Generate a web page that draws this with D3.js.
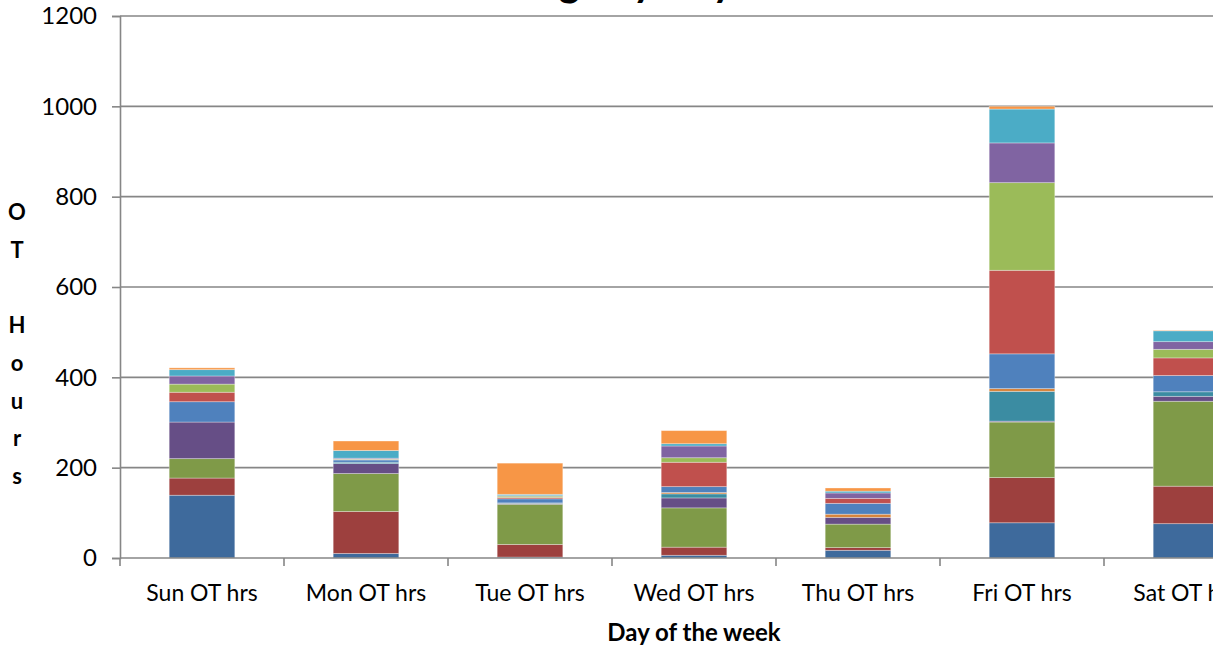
<!DOCTYPE html>
<html>
<head>
<meta charset="utf-8">
<script src="https://cdn.jsdelivr.net/npm/d3@7"></script>
<style>
  body { margin: 0; background: #fff; }
  #chart svg { display: block; overflow: hidden; }
</style>
</head>
<body>
<div id="chart"></div>
<script>
// categories along the x axis
var days = ["Sun OT hrs", "Mon OT hrs", "Tue OT hrs", "Wed OT hrs", "Thu OT hrs", "Fri OT hrs", "Sat OT hrs"];

// one array per series, bottom of the stack first (Sun..Sat)
var series1  = [139, 10,  2,  6, 17,  78,  76];
var series2  = [ 38, 93, 28, 18,  6, 100,  83];
var series3  = [ 43, 84, 89, 87, 52, 123, 188];
var series4  = [ 81, 22,  2, 22, 15,   2,  11];
var series5  = [  0,  3,  1,  9,  0,  66,  10];
var series6  = [  0,  0,  0,  3,  7,   6,   0];
var series7  = [ 45,  5,  9, 13, 24,  77,  36];
var series8  = [ 21,  1,  3, 54, 11, 185,  39];
var series9  = [ 18,  1,  3, 10,  0, 194,  19];
var series10 = [ 18,  2,  1, 26, 12,  88,  17];
var series11 = [ 14, 17,  3,  5,  4,  75,  24];
var series12 = [  4, 21, 69, 29,  7,   6,   1];

var seriesNames = ["Series1", "Series2", "Series3", "Series4", "Series5", "Series6",
                   "Series7", "Series8", "Series9", "Series10", "Series11", "Series12"];
var seriesValues = [series1, series2, series3, series4, series5, series6,
                    series7, series8, series9, series10, series11, series12];

var yTicks = [0, 200, 400, 600, 800, 1000, 1200];

var chartTitle = "OT Usage by Day of the Week";
var yTitleLetters = ["O", "T", "", "H", "o", "u", "r", "s"];
var xTitle = "Day of the week";

// excel 2007 palette, darker shades first
var colors = ["#3E6A9C", "#9D403E", "#7F9A48", "#664E86", "#3B8CA2", "#D9843A",
              "#4F81BD", "#C0504D", "#9BBB59", "#8064A2", "#4BACC6", "#F79646"];

var width = 1213, height = 647;
var plotLeft = 120, plotRight = 1268, plotTop = 16, plotBottom = 558;
var font = "Lato, 'Open Sans', sans-serif";
var axisGrey = "#868686";

// build rows for d3.stack
var rows = days.map(function(day, i) {
    var r = { day: day };
    seriesNames.forEach(function(name, s) { r[name] = seriesValues[s][i]; });
    return r;
});

var stacked = d3.stack().keys(seriesNames)(rows);

var x = d3.scaleBand()
    .domain(days)
    .range([plotLeft, plotRight])
    .paddingInner(0.6)
    .paddingOuter(0.3);

var y = d3.scaleLinear()
    .domain([0, 1200])
    .range([plotBottom, plotTop]);

var color = d3.scaleOrdinal().domain(seriesNames).range(colors);

var svg = d3.select("#chart")
    .append("svg")
    .attr("width", width)
    .attr("height", height);

// title (mostly above the visible area)
svg.append("text")
    .attr("x", 694)
    .attr("y", -4)
    .attr("text-anchor", "middle")
    .attr("font-family", font)
    .attr("font-weight", "bold")
    .attr("font-size", 40)
    .text(chartTitle);

// gridlines
svg.append("g")
    .selectAll("line")
    .data(yTicks.filter(function(t) { return t > 0; }))
    .enter()
    .append("line")
    .attr("x1", plotLeft)
    .attr("x2", plotRight)
    .attr("y1", function(d) { return y(d); })
    .attr("y2", function(d) { return y(d); })
    .attr("stroke", axisGrey)
    .attr("stroke-width", 1.6);

// stacked bars
svg.append("g")
    .selectAll("g")
    .data(stacked)
    .enter()
    .append("g")
    .attr("fill", function(d) { return color(d.key); })
    .selectAll("rect")
    .data(function(d) { return d; })
    .enter()
    .append("rect")
    .attr("x", function(d) { return x(d.data.day); })
    .attr("width", x.bandwidth())
    .attr("y", function(d) { return y(d[1]); })
    .attr("height", function(d) { return Math.max(0, y(d[0]) - y(d[1])); })
    .attr("stroke", "rgba(255,255,255,0.4)")
    .attr("stroke-width", function(d) { return d[1] > d[0] ? 0.8 : 0; });

// y axis
var yAxis = d3.axisLeft(y).tickValues(yTicks).tickFormat(d3.format("d")).tickSize(8).tickPadding(15);
var yAxisG = svg.append("g")
    .attr("transform", "translate(" + plotLeft + ",0)")
    .call(yAxis);
yAxisG.select(".domain").attr("stroke", axisGrey).attr("stroke-width", 1.6);
yAxisG.selectAll(".tick line").attr("stroke", axisGrey).attr("stroke-width", 1.6);
yAxisG.selectAll(".tick text")
    .attr("font-family", font)
    .attr("font-size", 24)
    .attr("fill", "#000");

// x axis (ticks between categories)
svg.append("line")
    .attr("x1", plotLeft).attr("x2", plotRight)
    .attr("y1", plotBottom).attr("y2", plotBottom)
    .attr("stroke", axisGrey).attr("stroke-width", 1.6);

var step = x.step();
svg.append("g")
    .selectAll("line")
    .data(d3.range(days.length + 1))
    .enter()
    .append("line")
    .attr("x1", function(i) { return plotLeft + i * step; })
    .attr("x2", function(i) { return plotLeft + i * step; })
    .attr("y1", plotBottom)
    .attr("y2", plotBottom + 8)
    .attr("stroke", axisGrey)
    .attr("stroke-width", 1.6);

svg.append("g")
    .selectAll("text")
    .data(days)
    .enter()
    .append("text")
    .attr("x", function(d) { return x(d) + x.bandwidth() / 2; })
    .attr("y", 601)
    .attr("text-anchor", "middle")
    .attr("font-family", font)
    .attr("font-size", 23)
    .text(function(d) { return d; });

// axis titles
svg.append("text")
    .attr("x", (plotLeft + plotRight) / 2)
    .attr("y", 641)
    .attr("text-anchor", "middle")
    .attr("font-family", font)
    .attr("font-weight", "bold")
    .attr("font-size", 24)
    .text(xTitle);

svg.append("g")
    .selectAll("text")
    .data(yTitleLetters)
    .enter()
    .append("text")
    .attr("x", 17)
    .attr("y", function(d, i) { return 220 + i * 37.7; })
    .attr("text-anchor", "middle")
    .attr("font-family", font)
    .attr("font-weight", "bold")
    .attr("font-size", 22)
    .text(function(d) { return d; });
</script>
</body>
</html>
